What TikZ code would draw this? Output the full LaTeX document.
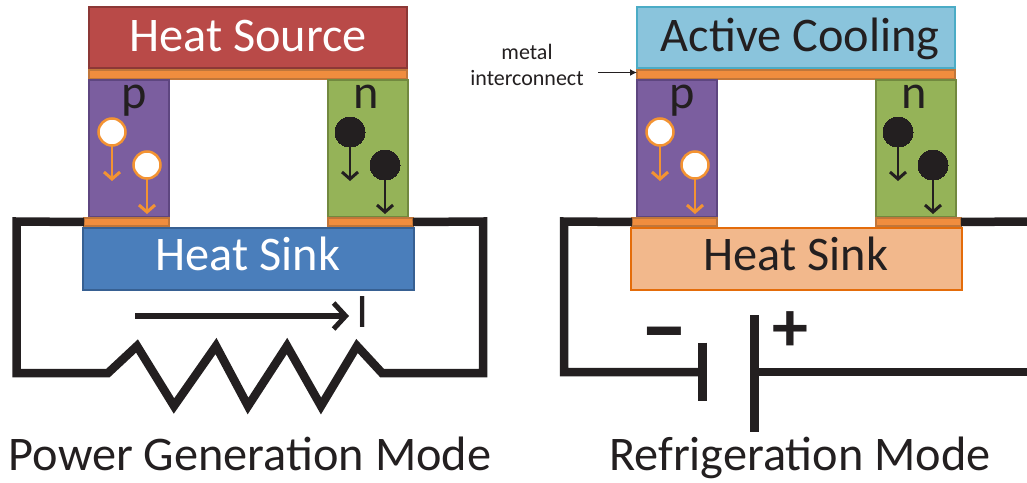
\documentclass[tikz,border=0pt]{standalone}
\usepackage{fontspec}
\setmainfont{Carlito}
\usetikzlibrary{arrows.meta}
\definecolor{ink}{HTML}{231F20}
\definecolor{srcred}{HTML}{B94A48}
\definecolor{srcedge}{HTML}{8C3836}
\definecolor{metal}{HTML}{F08D3E}
\definecolor{metaledge}{HTML}{C0763A}
\definecolor{ptype}{HTML}{7B5E9F}
\definecolor{ptypeedge}{HTML}{5E4680}
\definecolor{ntype}{HTML}{95B358}
\definecolor{ntypeedge}{HTML}{72893F}
\definecolor{sinkblue}{HTML}{4A7EBB}
\definecolor{sinkedge}{HTML}{376092}
\definecolor{cool}{HTML}{8AC4DC}
\definecolor{cooledge}{HTML}{4BACC6}
\definecolor{peach}{HTML}{F2B88C}
\definecolor{peachedge}{HTML}{E46C0A}
\definecolor{holeline}{HTML}{F39332}
\tikzstyle{block} = [rectangle, draw, line width=2pt, inner sep=0pt, outer sep=0pt,
    minimum width=318pt, minimum height=61pt, text depth=0pt, text height=27pt,
    font=\fontsize{48.3pt}{50pt}\selectfont]
\tikzstyle{sink} = [block, minimum width=331pt, minimum height=62pt, text height=22pt]
\tikzstyle{strip} = [rectangle, draw=metaledge, fill=metal, line width=2pt, inner sep=0pt,
    outer sep=0pt, minimum width=318pt, minimum height=9pt]
\tikzstyle{pad} = [strip, minimum width=85pt, minimum height=8pt]
\tikzstyle{pleg} = [rectangle, draw=ptypeedge, fill=ptype, line width=2pt, outer sep=0pt,
    minimum width=80pt, minimum height=137pt]
\tikzstyle{nleg} = [pleg, draw=ntypeedge, fill=ntype]
\tikzstyle{hole} = [circle, draw=holeline, fill=white, line width=2.5pt, inner sep=0pt,
    outer sep=0pt, minimum size=27pt]
\tikzstyle{electron} = [circle, draw=ink, fill=ink, line width=0pt, inner sep=0pt,
    outer sep=0pt, minimum size=30pt]
\tikzstyle{label} = [inner sep=0pt, anchor=base, text=ink, font=\fontsize{48.3pt}{50pt}\selectfont]
\tikzstyle{wire} = [draw=ink, line width=8.5pt, miter limit=10]
\tikzstyle{plate} = [draw=ink, line width=8.5pt]
\tikzstyle{holearrow} = [draw=holeline, line width=2.3pt, -{Straight Barb[length=7pt,width=16pt,line width=3pt]}]
\tikzstyle{elecarrow} = [draw=ink, line width=2.3pt, -{Straight Barb[length=7pt,width=16pt,line width=3pt]}]
\begin{document}
\begin{tikzpicture}[x=1pt, y=-1pt]
	\useasboundingbox (0,0) rectangle (1027,482);

	\coordinate (gtl) at (16.5,221.5);
	\coordinate (gbl) at (16.5,373);
	\coordinate (gbr) at (483,373);
	\coordinate (gtr) at (483,221.5);
	\coordinate (rtl) at (564,221.5);
	\coordinate (rbl) at (564,372);
	\coordinate (rtr) at (1027,221.5);
	\coordinate (rbr) at (1027,372);

	% power generation
	\node [block, draw=srcedge, fill=srcred, text=white] (source) at (248,37.5) {Heat Source};
	\node [strip] (gtop) at (248,74.5) {};
	\node [pleg] (gp) at (128.5,148.5) {};
	\node [nleg] (gn) at (367.5,148.5) {};
	\node [pad] (gpadl) at (126.5,222) {};
	\node [pad] (gpadr) at (370.5,222) {};
	\node [sink, draw=sinkedge, fill=sinkblue, text=white] (gsink) at (248,259) {Heat Sink};
	\node [label] (gplabel) at (134,108) {p};
	\node [label] (gnlabel) at (366,108) {n};

	\node [hole] (gh1) at (112,132) {};
	\node [hole] (gh2) at (147,165) {};
	\node [electron] (ge1) at (350,132) {};
	\node [electron] (ge2) at (385,165) {};
	\coordinate (gh1end) at (112,181);
	\coordinate (gh2end) at (147,214);
	\coordinate (ge1end) at (350,181);
	\coordinate (ge2end) at (385,214);
	\path [holearrow] (gh1) -- (gh1end);
	\path [holearrow] (gh2) -- (gh2end);
	\path [elecarrow] (ge1) -- (ge1end);
	\path [elecarrow] (ge2) -- (ge2end);

	\path [wire] (gpadl.west) -- (gtl) -- (gbl) -- (108,373) -- (137,346) -- (174,406) -- (216,346)
		-- (248,406) -- (287,346) -- (321,406) -- (357,346) -- (382,373) -- (gbr) -- (gtr) -- (gpadr.east);

	\coordinate (cur) at (135,316);
	\coordinate (curend) at (349,316);
	\node [label] (curlabel) at (363,327) {I};
	\path [draw=ink, line width=6pt, -{Straight Barb[length=12pt,width=26pt,line width=5pt]}] (cur) -- (curend);

	\node [label] (gtitle) at (250,470) {Power Generation Mode};

	% refrigeration
	\node [block, draw=cooledge, fill=cool, text=ink] (cooling) at (796,37.5) {\hspace*{8pt}Active Cooling};
	\node [strip] (rtop) at (796,74.5) {};
	\node [pleg] (rp) at (676.5,148.5) {};
	\node [nleg] (rn) at (915.5,148.5) {};
	\node [pad] (rpadl) at (674.5,222) {};
	\node [pad] (rpadr) at (918.5,222) {};
	\node [sink, draw=peachedge, fill=peach, text=ink] (rsink) at (796,259) {Heat Sink};
	\node [label] (rplabel) at (682,108) {p};
	\node [label] (rnlabel) at (914,108) {n};

	\node [hole] (rh1) at (660,132) {};
	\node [hole] (rh2) at (695,165) {};
	\node [electron] (re1) at (898,132) {};
	\node [electron] (re2) at (933,165) {};
	\coordinate (rh1end) at (660,181);
	\coordinate (rh2end) at (695,214);
	\coordinate (re1end) at (898,181);
	\coordinate (re2end) at (933,214);
	\path [holearrow] (rh1) -- (rh1end);
	\path [holearrow] (rh2) -- (rh2end);
	\path [elecarrow] (re1) -- (re1end);
	\path [elecarrow] (re2) -- (re2end);

	\node [inner sep=0pt, align=center, text=ink, font=\fontsize{22pt}{26pt}\selectfont] (metallabel) at (527,65) {metal\\interconnect};
	\coordinate (metalarrow) at (598,72.5);
	\path [draw=ink, line width=1.5pt, -{Latex[length=7pt,width=7pt]}] (metalarrow) -- (rtop.west |- metalarrow);

	\coordinate (platel) at (702.3,372);
	\coordinate (plater) at (754.6,372);
	\coordinate (platelt) at (702.3,342.7);
	\coordinate (platelb) at (702.3,401);
	\coordinate (platert) at (754.6,315);
	\coordinate (platerb) at (754.6,432);
	\path [wire] (rpadl.west) -- (rtl) -- (rbl) -- (platel);
	\path [wire] (plater) -- (rbr);
	\path [wire] (rpadr.east) -- (rtr);
	\path [plate] (platelt) -- (platelb);
	\path [plate] (platert) -- (platerb);
	\node [inner sep=0pt, anchor=base, text=ink, font=\fontsize{96pt}{96pt}\selectfont\bfseries] (minus) at (664,358) {--};
	\node [inner sep=0pt, text=ink, font=\fontsize{72pt}{72pt}\selectfont\bfseries] (plus) at (790,332) {+};

	\node [label] (rtitle) at (800,470) {Refrigeration Mode};
\end{tikzpicture}
\end{document}
